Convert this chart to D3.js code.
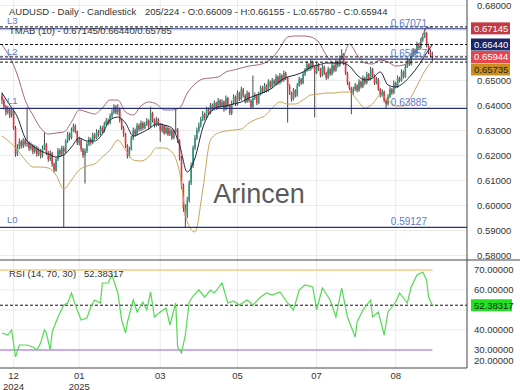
<!DOCTYPE html>
<html>
<head>
<meta charset="utf-8">
<script src="https://cdn.jsdelivr.net/npm/d3@7"></script>
<style>
  body { margin: 0; background: #fff; overflow: hidden; }
  text { font-family: "Liberation Sans", Arial, sans-serif; }
</style>
</head>
<body>
<svg id="chart" width="520" height="390"></svg>
<script>
// AUDUSD daily candles (open of each bar = previous close)
const firstOpen = 0.6440;
const closes = [0.6420,0.6395,0.6372,0.6385,0.6360,0.6378,0.6310,0.6205,0.6232,0.6255,
0.6238,0.6260,0.6245,0.6250,0.6228,0.6240,0.6215,0.6232,0.6205,0.6220,
0.6198,0.6230,0.6245,0.6212,0.6185,0.6210,0.6165,0.6140,0.6185,0.6220,
0.6205,0.6230,0.6215,0.6258,0.6285,0.6270,0.6302,0.6318,0.6295,0.6250,
0.6262,0.6225,0.6200,0.6218,0.6245,0.6265,0.6250,0.6282,0.6270,0.6295,
0.6285,0.6310,0.6298,0.6325,0.6340,0.6330,0.6358,0.6372,0.6395,0.6372,
0.6388,0.6340,0.6310,0.6285,0.6240,0.6198,0.6225,0.6268,0.6300,0.6285,
0.6320,0.6305,0.6330,0.6310,0.6325,0.6340,0.6315,0.6370,0.6340,0.6320,
0.6345,0.6325,0.6300,0.6318,0.6290,0.6310,0.6285,0.6300,0.6270,0.6295,
0.6305,0.6260,0.6190,0.6080,0.5990,0.5960,0.6020,0.6090,0.6160,0.6230,
0.6270,0.6300,0.6320,0.6345,0.6365,0.6350,0.6385,0.6370,0.6400,0.6385,
0.6410,0.6390,0.6420,0.6400,0.6415,0.6385,0.6430,0.6400,0.6370,0.6410,
0.6435,0.6405,0.6450,0.6425,0.6465,0.6440,0.6415,0.6450,0.6420,0.6395,
0.6430,0.6440,0.6410,0.6445,0.6470,0.6455,0.6480,0.6460,0.6495,0.6475,
0.6500,0.6485,0.6515,0.6490,0.6520,0.6500,0.6530,0.6510,0.6480,0.6450,
0.6425,0.6460,0.6440,0.6480,0.6505,0.6490,0.6525,0.6540,0.6565,0.6545,
0.6575,0.6555,0.6530,0.6565,0.6545,0.6520,0.6555,0.6530,0.6510,0.6545,
0.6525,0.6560,0.6540,0.6575,0.6560,0.6590,0.6605,0.6570,0.6530,0.6490,
0.6470,0.6450,0.6465,0.6480,0.6460,0.6495,0.6475,0.6510,0.6490,0.6525,
0.6505,0.6545,0.6520,0.6490,0.6505,0.6465,0.6440,0.6455,0.6420,0.6405,
0.6435,0.6465,0.6450,0.6490,0.6475,0.6510,0.6500,0.6535,0.6515,0.6555,
0.6580,0.6565,0.6600,0.6620,0.6610,0.6645,0.6630,0.6660,0.6675,0.6690,
0.6640,0.6615,0.66009,0.65944];
const highs = [0.6452,0.6428,0.6402,0.6398,0.6392,0.6390,0.6384,0.6318,0.6245,0.6268,
0.6262,0.6270,0.6266,0.6392,0.6256,0.6252,0.6246,0.6242,0.6238,0.6232,
0.6226,0.6240,0.6294,0.6250,0.6218,0.6220,0.6215,0.6172,0.6192,0.6230,
0.6228,0.6240,0.6238,0.6265,0.6295,0.6292,0.6312,0.6328,0.6325,0.6300,
0.6275,0.6268,0.6230,0.6228,0.6255,0.6275,0.6272,0.6292,0.6290,0.6305,
0.6302,0.6320,0.6318,0.6335,0.6350,0.6348,0.6368,0.6385,0.6405,0.6402,
0.6405,0.6392,0.6348,0.6318,0.6290,0.6245,0.6235,0.6278,0.6312,0.6308,
0.6330,0.6328,0.6340,0.6336,0.6335,0.6350,0.6345,0.6395,0.6375,0.6348,
0.6355,0.6350,0.6330,0.6328,0.6322,0.6320,0.6315,0.6310,0.6305,0.6305,
0.6390,0.6310,0.6265,0.6198,0.6088,0.6005,0.6035,0.6100,0.6172,0.6240,
0.6282,0.6312,0.6332,0.6355,0.6378,0.6372,0.6395,0.6392,0.6410,0.6408,
0.6420,0.6415,0.6430,0.6425,0.6425,0.6420,0.6440,0.6435,0.6405,0.6420,
0.6445,0.6440,0.6460,0.6455,0.6475,0.6470,0.6445,0.6460,0.6455,0.6425,
0.6520,0.6452,0.6445,0.6455,0.6480,0.6478,0.6490,0.6485,0.6505,0.6500,
0.6510,0.6505,0.6525,0.6520,0.6530,0.6525,0.6540,0.6535,0.6515,0.6485,
0.6455,0.6470,0.6465,0.6490,0.6515,0.6510,0.6535,0.6550,0.6578,0.6570,
0.6585,0.6580,0.6560,0.6575,0.6570,0.6550,0.6565,0.6560,0.6535,0.6555,
0.6550,0.6570,0.6565,0.6585,0.6580,0.6600,0.6625,0.6610,0.6575,0.6535,
0.6495,0.6475,0.6475,0.6490,0.6485,0.6505,0.6500,0.6520,0.6515,0.6535,
0.6530,0.6555,0.6550,0.6525,0.6515,0.6510,0.6470,0.6465,0.6460,0.6425,
0.6445,0.6475,0.6470,0.6500,0.6495,0.6520,0.6515,0.6545,0.6540,0.6565,
0.6590,0.6585,0.6610,0.6630,0.6628,0.6655,0.6650,0.6670,0.6688,0.6707,
0.6695,0.6648,0.6625,0.66155];
const lows = [0.6405,0.6384,0.6360,0.6365,0.6350,0.6352,0.6302,0.6195,0.6198,0.6225,
0.6228,0.6230,0.6236,0.6235,0.6218,0.6220,0.6205,0.6208,0.6195,0.6198,
0.6188,0.6192,0.6222,0.6202,0.6175,0.6178,0.6155,0.6132,0.6135,0.6178,
0.6195,0.6198,0.5913,0.6208,0.6250,0.6260,0.6265,0.6295,0.6288,0.6242,
0.6240,0.6215,0.6190,0.6088,0.6210,0.6238,0.6240,0.6245,0.6262,0.6265,
0.6275,0.6280,0.6290,0.6292,0.6318,0.6322,0.6325,0.6350,0.6365,0.6365,
0.6362,0.6332,0.6302,0.6275,0.6230,0.6188,0.6192,0.6220,0.6262,0.6275,
0.6280,0.6296,0.6298,0.6302,0.6305,0.6318,0.6305,0.6310,0.6332,0.6312,
0.6315,0.6318,0.6255,0.6292,0.6282,0.6285,0.6278,0.6278,0.6262,0.6265,
0.6288,0.6250,0.6180,0.6065,0.5975,0.5913,0.5950,0.6012,0.6082,0.6150,
0.6222,0.6262,0.6292,0.6312,0.6338,0.6340,0.6345,0.6362,0.6365,0.6378,
0.6380,0.6382,0.6385,0.6392,0.6395,0.6375,0.6380,0.6392,0.6362,0.6362,
0.6405,0.6398,0.6400,0.6418,0.6420,0.6432,0.6408,0.6410,0.6412,0.6388,
0.6390,0.6422,0.6402,0.6405,0.6440,0.6448,0.6450,0.6452,0.6455,0.6468,
0.6470,0.6478,0.6480,0.6482,0.6485,0.6492,0.6495,0.6502,0.6332,0.6442,
0.6415,0.6420,0.6432,0.6435,0.6475,0.6482,0.6485,0.6518,0.6535,0.6538,
0.6540,0.6548,0.6352,0.6525,0.6538,0.6512,0.6515,0.6522,0.6502,0.6505,
0.6518,0.6520,0.6532,0.6535,0.6552,0.6555,0.6585,0.6562,0.6522,0.6482,
0.6462,0.6365,0.6442,0.6458,0.6452,0.6455,0.6468,0.6470,0.6482,0.6485,
0.6498,0.6500,0.6512,0.6482,0.6485,0.6458,0.6432,0.6435,0.6412,0.6389,
0.6400,0.6430,0.6442,0.6445,0.6468,0.6470,0.6492,0.6495,0.6508,0.6510,
0.6550,0.6558,0.6560,0.6595,0.6602,0.6605,0.6622,0.6625,0.6655,0.6670,
0.6632,0.6605,0.6592,0.6578];

// TMAB(10) bands, read every 4th bar
const bandBars = [0,4,8,12,16,20,24,28,32,36,40,44,48,52,56,60,64,68,72,76,80,84,88,92,96,100,
  104,108,112,116,120,124,128,132,136,140,144,148,152,156,160,164,168,172,176,180,184,188,192,196,
  200,204,208,212,216,220,223];
const bandUpper = [0.6642,0.6594,0.6522,0.6422,0.6362,0.6310,0.6286,0.6290,0.6294,0.6334,
  0.6382,0.6374,0.6366,0.6390,0.6422,0.6422,0.6374,0.6362,0.6398,0.6414,
  0.6406,0.6382,0.6382,0.6390,0.6450,0.6486,0.6506,0.6510,0.6514,0.6534,
  0.6542,0.6550,0.6558,0.6562,0.6570,0.6590,0.6630,0.6674,0.6678,0.6678,
  0.6674,0.6654,0.6602,0.6570,0.6582,0.6646,0.6602,0.6570,0.6566,0.6582,
  0.6574,0.6558,0.6562,0.6590,0.6642,0.6710,0.67145];
const bandMid = [0.6450,0.6402,0.6354,0.6270,0.6238,0.6218,0.6206,0.6194,0.6202,0.6234,
  0.6270,0.6258,0.6258,0.6286,0.6342,0.6354,0.6330,0.6278,0.6290,0.6306,
  0.6326,0.6322,0.6310,0.6242,0.6134,0.6190,0.6310,0.6374,0.6394,0.6398,
  0.6406,0.6414,0.6430,0.6442,0.6454,0.6470,0.6498,0.6514,0.6522,0.6534,
  0.6554,0.6562,0.6570,0.6570,0.6570,0.6558,0.6522,0.6502,0.6510,0.6534,
  0.6482,0.6474,0.6490,0.6522,0.6562,0.6610,0.66440];
const bandLower = [0.6278,0.6254,0.6222,0.6182,0.6154,0.6154,0.6150,0.6122,0.6066,0.6102,
  0.6142,0.6158,0.6166,0.6194,0.6222,0.6262,0.6222,0.6182,0.6178,0.6194,
  0.6230,0.6230,0.6214,0.6134,0.5934,0.5894,0.6062,0.6262,0.6290,0.6298,
  0.6302,0.6306,0.6330,0.6346,0.6358,0.6390,0.6414,0.6406,0.6406,0.6422,
  0.6442,0.6446,0.6450,0.6450,0.6454,0.6454,0.6422,0.6390,0.6406,0.6442,
  0.6422,0.6398,0.6398,0.6434,0.6494,0.6550,0.65785];

// RSI(14)
const rsiBars = [0,3,5,7,9,13,16,18,20,22,23,25,26,29,32,34,36,38,41,44,46,48,51,52,55,57,60,62,64,65,
  68,70,73,75,77,79,82,85,87,90,91,93,95,97,99,102,105,108,110,114,117,120,123,127,130,134,137,140,144,148,
  151,154,157,161,163,166,170,173,176,179,183,184,187,191,192,195,197,198,200,204,206,210,212,215,218,220,221,223];
const rsiVals = [38.5,37.5,40,26.5,32.5,32.5,31.5,30,33.5,40,38.5,30,39,46.5,52.5,53.5,58.5,52.5,45,46,
  51.5,55,53.5,63.5,63.5,67.5,58.5,45,38.5,44,55,49,54,50,59,46.5,49,51,42.5,53.5,
  31.5,28.5,37.5,54,57,60,56.5,60,58.5,63.5,53.5,54.5,52.5,55,52.5,56.5,58.5,57.5,59,53.5,
  50,60,62.5,61.5,50,61,55,46.5,61,46.5,36.5,44,50,55,46.5,49,41.5,37.5,49,54,
  58.5,53.5,61.5,67.5,69,65,56.5,52.38317];

// horizontal levels
const levelNames = ["L0", "L1", "L2", "L3"];
const levelVals = [0.59127, 0.63885, 0.65857, 0.67071];
const dashVals = [0.67145, 0.66440, 0.65944, 0.65735];
const tagVals = [0.67145, 0.66440, 0.65944, 0.65735];
const tagFill = ["#c23a43", "#1b2466", "#e8464e", "#c98f1e"];
const tagInk = ["#fff", "#fff", "#fff", "#222"];
const priceTicks = [0.58,0.59,0.60,0.61,0.62,0.63,0.64,0.65,0.66,0.67,0.68];
const rsiTicks = [70, 60, 50, 40, 30, 20];
const monthTicks = [6, 40, 82, 122, 163, 204];
const monthLabels = ["12", "01", "03", "05", "07", "08"];
const yearLabels = ["2024", "2025", "", "", "", ""];
const rsiLast = 52.38317;

const svg = d3.select("#chart");
const axisX = 467;

const x = d3.scaleLinear().domain([0, 223]).range([2, 432.4]);
const y = d3.scaleLinear().domain([0.58, 0.68]).range([255.5, 5.5]);
const yr = d3.scaleLinear().domain([20, 70]).range([370, 270]);

svg.append("rect").attr("width", 520).attr("height", 390).attr("fill", "#fff");
svg.append("clipPath").attr("id", "mainClip").append("rect")
   .attr("x", 0).attr("y", 0).attr("width", axisX).attr("height", 260);
svg.append("clipPath").attr("id", "rsiClip").append("rect")
   .attr("x", 0).attr("y", 260).attr("width", axisX).attr("height", 108);

// grid
const grid = svg.append("g").attr("stroke", "#ebebeb").attr("stroke-width", 1);
grid.selectAll("line.h").data(priceTicks).join("line")
    .attr("x1", 0).attr("x2", axisX).attr("y1", d => y(d)).attr("y2", d => y(d));
grid.selectAll("line.r").data([60, 50, 40]).join("line").attr("class", "r")
    .attr("x1", 0).attr("x2", axisX).attr("y1", d => yr(d)).attr("y2", d => yr(d));
grid.selectAll("line.v").data(monthTicks).join("line").attr("class", "v")
    .attr("x1", d => x(d)).attr("x2", d => x(d)).attr("y1", 0).attr("y2", 368);

// watermark
svg.append("text").attr("x", 259).attr("y", 203).attr("text-anchor", "middle")
   .attr("font-size", 27).attr("fill", "#5a5a5a").text("Arincen");

const main = svg.append("g").attr("clip-path", "url(#mainClip)");

// candles
const bars = closes.map((c, i) => ({i, o: i ? closes[i - 1] : firstOpen, h: highs[i], l: lows[i], c}));
const candle = main.append("g").selectAll("g").data(bars).join("g");
candle.append("line")
      .attr("x1", d => x(d.i)).attr("x2", d => x(d.i))
      .attr("y1", d => y(d.h)).attr("y2", d => y(d.l))
      .attr("stroke", "#333").attr("stroke-width", 0.9);
candle.append("rect")
      .attr("x", d => x(d.i) - 0.8).attr("width", 1.6)
      .attr("y", d => y(Math.max(d.o, d.c)))
      .attr("height", d => Math.max(1, Math.abs(y(d.o) - y(d.c))))
      .attr("fill", d => d.c >= d.o ? "#1f9e80" : "#e0353f");

// bands
const bandLine = vals => d3.line().curve(d3.curveMonotoneX)
  .x((d, k) => x(bandBars[k])).y(d => y(d))(vals);
main.append("path").attr("d", bandLine(bandUpper)).attr("fill", "none").attr("stroke", "#a5687a").attr("stroke-width", 1);
main.append("path").attr("d", bandLine(bandMid)).attr("fill", "none").attr("stroke", "#1c2540").attr("stroke-width", 1);
main.append("path").attr("d", bandLine(bandLower)).attr("fill", "none").attr("stroke", "#c9a55c").attr("stroke-width", 1);

// dashed price lines and levels
svg.selectAll("line.dash").data(dashVals).join("line").attr("class", "dash")
   .attr("x1", 0).attr("x2", axisX).attr("y1", d => y(d)).attr("y2", d => y(d))
   .attr("stroke", "#111").attr("stroke-dasharray", "3,2");
svg.selectAll("line.lvl").data(levelVals).join("line").attr("class", "lvl")
   .attr("x1", 0).attr("x2", axisX).attr("y1", d => y(d)).attr("y2", d => y(d))
   .attr("stroke", "#252f7e").attr("stroke-width", 1.2);
svg.selectAll("text.lname").data(levelVals).join("text").attr("class", "lname")
   .attr("x", 7).attr("y", d => y(d) - 4.5).attr("font-size", 9.5).attr("fill", "#5b79cc")
   .text((d, k) => levelNames[k]);
svg.selectAll("text.lval").data(levelVals).join("text").attr("class", "lval")
   .attr("x", 427).attr("y", d => y(d) - 2).attr("text-anchor", "end")
   .attr("font-size", 10).attr("fill", "#5b79cc").text(d => d.toFixed(5));

// titles
svg.append("text").attr("x", 9).attr("y", 14.5).attr("font-size", 9.5).attr("fill", "#333")
   .text("AUDUSD - Daily - Candlestick");
svg.append("text").attr("x", 145).attr("y", 14.5).attr("font-size", 9.5).attr("fill", "#333")
   .text("205/224 - O:0.66009 - H:0.66155 - L:0.65780 - C:0.65944");
svg.append("text").attr("x", 9).attr("y", 33.5).attr("font-size", 9.5).attr("fill", "#333")
   .text("TMAB (10) - 0.67145/0.66440/0.65785");

// price tags on the right axis (pushed apart when they collide)
let prevY = -99;
const tags = tagVals.map((v, k) => {
  let ty = Math.max(y(v), prevY + 12.5);
  if (k === 0) ty = y(v) + 1.5;
  prevY = ty;
  return {v, ty, k};
});

// right price axis, ticks covered by a tag are not shown
const shownTicks = priceTicks.filter(t => tags.every(g => Math.abs(g.ty - y(t)) > 8));
svg.selectAll("text.pt").data(shownTicks).join("text").attr("class", "pt")
   .attr("x", 477).attr("y", d => y(d)).attr("dy", "0.35em")
   .attr("font-size", 9.5).attr("fill", "#333").text(d => d.toFixed(5));

const tag = svg.selectAll("g.tag").data(tags).join("g").attr("class", "tag");
tag.append("rect").attr("x", 471).attr("y", d => d.ty - 6).attr("width", 39).attr("height", 12)
   .attr("fill", d => tagFill[d.k]);
tag.append("text").attr("x", 474).attr("y", d => d.ty).attr("dy", "0.35em")
   .attr("font-size", 9.5).attr("fill", d => tagInk[d.k]).text(d => d.v.toFixed(5));

// RSI panel
const rsiG = svg.append("g").attr("clip-path", "url(#rsiClip)");
rsiG.append("line").attr("x1", 0).attr("x2", x(223)).attr("y1", yr(70)).attr("y2", yr(70))
    .attr("stroke", "#f3cd85").attr("stroke-width", 1.5);
rsiG.append("line").attr("x1", 0).attr("x2", x(223)).attr("y1", yr(30)).attr("y2", yr(30))
    .attr("stroke", "#b98fe6").attr("stroke-width", 1.5);
rsiG.append("line").attr("x1", 0).attr("x2", axisX).attr("y1", yr(rsiLast)).attr("y2", yr(rsiLast))
    .attr("stroke", "#111").attr("stroke-dasharray", "3,2");
rsiG.append("path")
    .attr("d", d3.line().x((d, k) => x(rsiBars[k])).y(d => yr(d))(rsiVals))
    .attr("fill", "none").attr("stroke", "#55d955").attr("stroke-width", 1.2);

svg.append("text").attr("x", 9).attr("y", 277).attr("font-size", 9.5).attr("fill", "#333")
   .text("RSI (14, 70, 30)");
svg.append("text").attr("x", 84).attr("y", 277).attr("font-size", 9.5).attr("fill", "#333")
   .text(rsiLast.toFixed(5));

const shownRsi = rsiTicks.filter(t => Math.abs(yr(t) - yr(rsiLast)) > 8);
svg.selectAll("text.rt").data(shownRsi).join("text").attr("class", "rt")
   .attr("x", 474).attr("y", d => Math.min(yr(d), 361)).attr("dy", "0.35em")
   .attr("font-size", 9.5).attr("fill", "#333").text(d => d.toFixed(5));
svg.append("rect").attr("x", 471).attr("y", yr(rsiLast) - 6).attr("width", 41).attr("height", 12)
   .attr("fill", "#22e022");
svg.append("text").attr("x", 474).attr("y", yr(rsiLast)).attr("dy", "0.35em")
   .attr("font-size", 9.5).attr("fill", "#222").text(rsiLast.toFixed(5));

// frame
svg.append("line").attr("x1", 0).attr("x2", 520).attr("y1", 260).attr("y2", 260).attr("stroke", "#444");
svg.append("line").attr("x1", 0).attr("x2", axisX).attr("y1", 368).attr("y2", 368).attr("stroke", "#444");
svg.append("line").attr("x1", axisX).attr("x2", axisX).attr("y1", 0).attr("y2", 368).attr("stroke", "#444");

// month axis
svg.selectAll("text.mo").data(monthTicks).join("text").attr("class", "mo")
   .attr("x", d => x(d)).attr("y", 379).attr("text-anchor", "middle")
   .attr("font-size", 9.5).attr("fill", "#333").text((d, k) => monthLabels[k]);
svg.selectAll("text.yr").data(monthTicks).join("text").attr("class", "yr")
   .attr("x", d => x(d)).attr("y", 389.5).attr("text-anchor", "middle")
   .attr("font-size", 9.5).attr("fill", "#333").text((d, k) => yearLabels[k]);
</script>
</body>
</html>
